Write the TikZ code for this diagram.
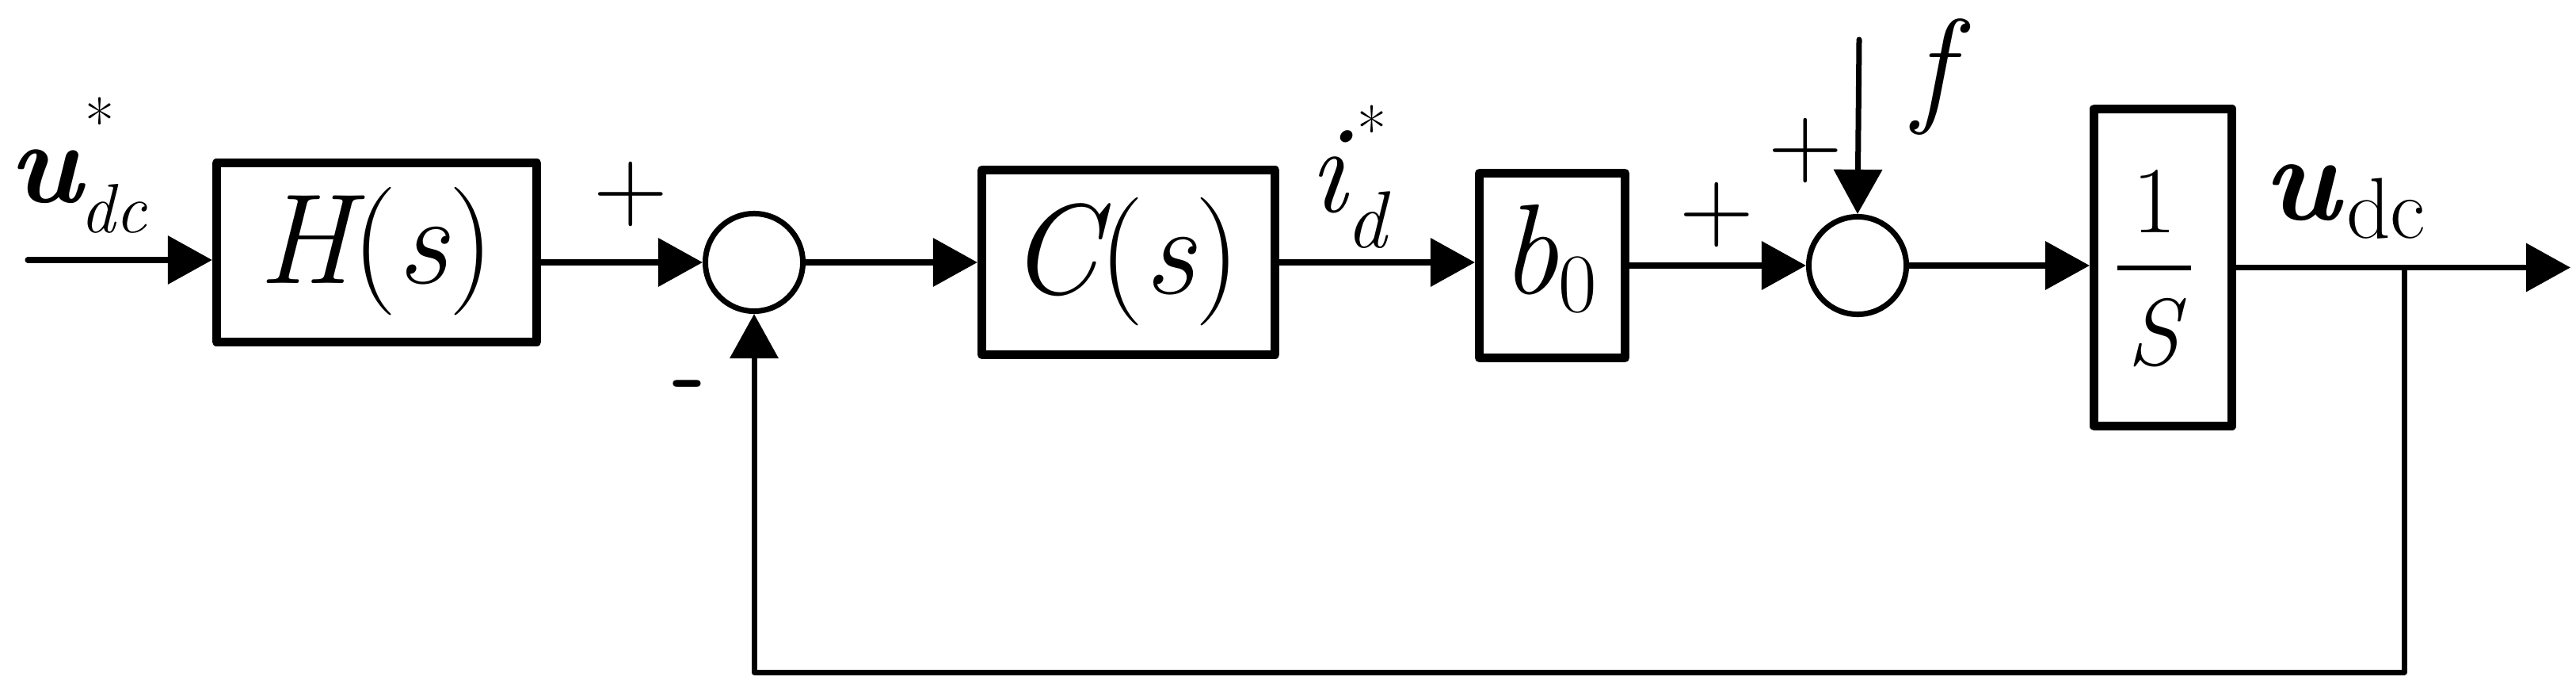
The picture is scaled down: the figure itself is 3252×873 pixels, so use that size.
\documentclass[tikz,border=0pt]{standalone}
\usepackage{fontspec}
\usetikzlibrary{arrows.meta}
\newcommand{\fsz}[1]{\fontsize{#1}{#1}\selectfont}
\begin{document}
\begin{tikzpicture}[x=0.01cm,y=-0.01cm,
  blk/.style={draw, line width=0.11cm, line join=round, inner sep=0},
  sumnode/.style={circle, draw, line width=0.07cm, minimum size=1.23cm, inner sep=0},
  wire/.style={line width=0.07cm, line cap=round, line join=round},
  conn/.style={wire, -{Triangle[length=0.56cm,width=0.6cm]}},
  lbl/.style={inner sep=0, anchor=base}]
\useasboundingbox (0,0) rectangle (3252,873);
% blocks
\node[blk, minimum width=4.04cm, minimum height=2.26cm] (H) at (475.5,318.5) {};
\node[blk, minimum width=3.70cm, minimum height=2.33cm] (C) at (1424.5,331) {};
\node[blk, minimum width=1.84cm, minimum height=2.33cm] (B) at (1959.5,335) {};
\node[blk, minimum width=1.74cm, minimum height=4.00cm] (S) at (2730.5,337.5) {};
\node[sumnode] (c1) at (952,331) {};
\node[sumnode] (c2) at (2345,335) {};
% block texts
\node[lbl, font=\fsz{46}] (Ht) at (475,357) {\itshape H\upshape(\itshape s\upshape)};
\node[lbl, font=\fsz{46}] (Ct) at (1420,370) {\itshape C\upshape(\itshape s\upshape)};
\node[lbl, font=\fsz{46}] (Bt) at (1955,370) {\itshape b\upshape\raisebox{-0.23cm}{\fsz{30}0}};
\node[lbl, font=\fsz{34}] (one) at (2720,293) {1};
\node[lbl, font=\fsz{34}\itshape] (Sden) at (2718,460) {S};
\coordinate (barL) at (2673,338);
\coordinate (barR) at (2766,338);
\draw[line width=0.06cm] (barL) -- (barR);
% coordinates
\coordinate (in) at (35,328);
\coordinate (out) at (3245,337.5);
\coordinate (J) at (3035,337.5);
\coordinate (fbR) at (3035,848);
\coordinate (fbL) at (952,848);
\coordinate (ftop) at (2347,50);
% connectors
\draw[conn] (in) -- (in -| H.west);
\draw[conn] (c1 -| H.east) -- (c1.west);
\draw[conn] (c1.east) -- (c1 -| C.west);
\draw[conn] (C.east) -- (C.east -| B.west);
\draw[conn] (c2 -| B.east) -- (c2.west);
\draw[conn] (c2.east) -- (c2.east -| S.west);
\draw[conn] (S.east) -- (out);
\draw[conn] (J) -- (fbR) -- (fbL) -- (c1.south);
\draw[conn] (ftop) -- (c2.north);
% signal labels
\node[lbl, font=\fsz{42}\bfseries\itshape] (uin) at (57,255) {u};
\node[lbl, font=\fsz{23}] (uinstar) at (126,183) {*};
\node[lbl, font=\fsz{25}\itshape] (uindc) at (143,293) {dc};
\node[lbl, font=\fsz{45}\itshape] (id) at (1676,267) {i};
\node[lbl, font=\fsz{23}] (idstar) at (1732,193) {*};
\node[lbl, font=\fsz{29}\itshape] (idd) at (1725,312) {d};
\node[lbl, font=\fsz{46}\itshape] (fl) at (2440,138) {f};
\node[lbl, font=\fsz{44}\bfseries\itshape] (uout) at (2905,277) {u};
\node[lbl, font=\fsz{31}] (uoutdc) at (3012,300) {dc};
% signs
\node[lbl, font=\fsz{37}] (p1) at (796,277) {+};
\node[lbl, font=\fsz{37}] (p2) at (2167,304) {+};
\node[lbl, font=\fsz{37}] (p3) at (2279,222) {+};
\node[lbl, font=\sffamily\bfseries\fsz{34}] (m1) at (870,511) {-};
\end{tikzpicture}
\end{document}
